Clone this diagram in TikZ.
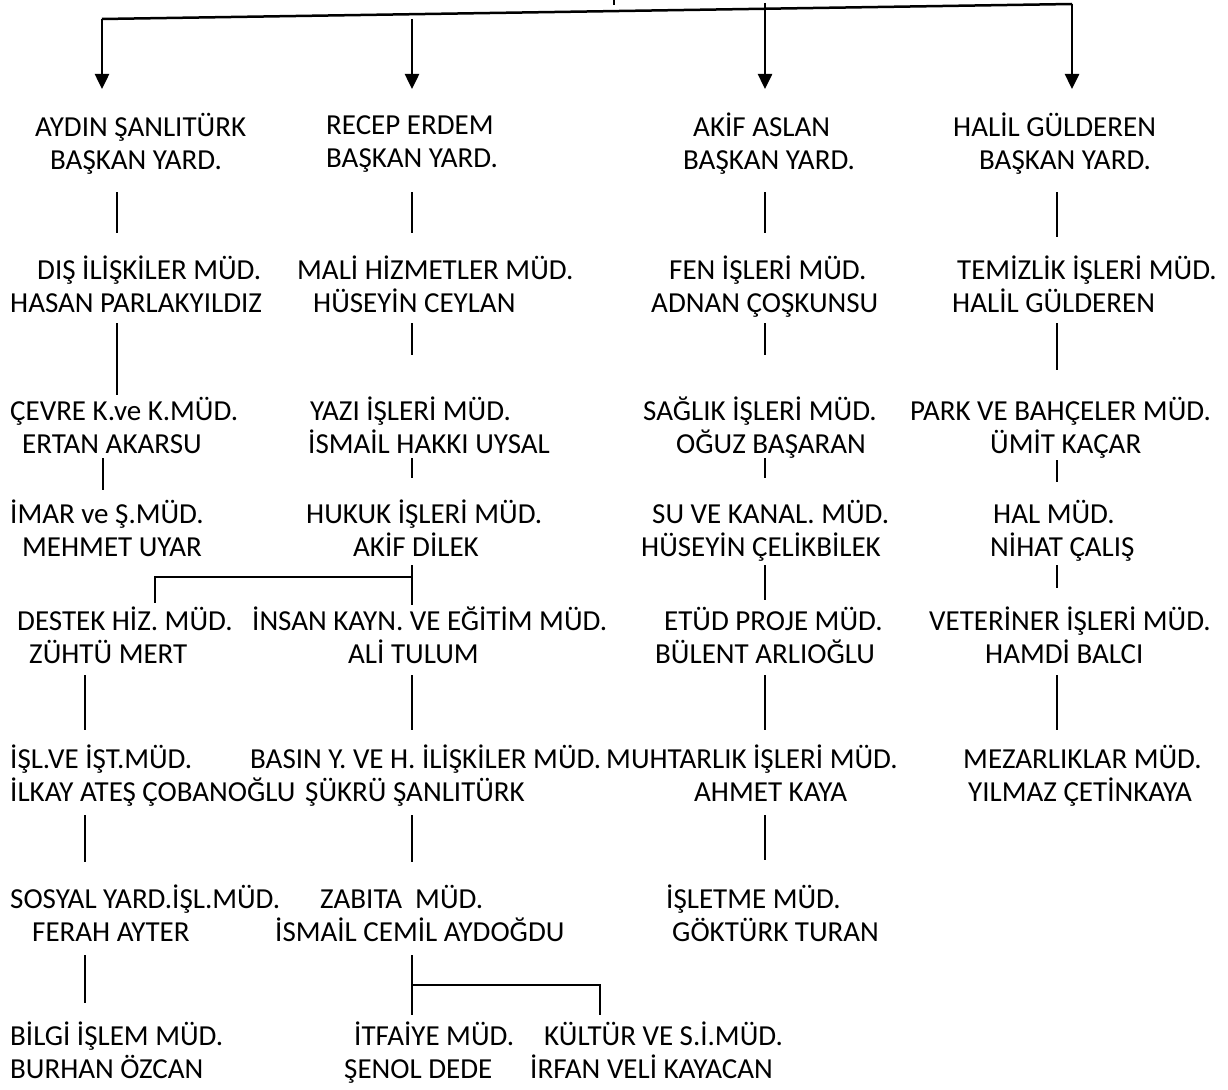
\documentclass[tikz,border=0pt]{standalone}
\usepackage{fontspec}
\setmainfont{Carlito}
\usepackage{tikz}
\usetikzlibrary{arrows.meta}

\begin{document}
\begin{tikzpicture}[x=1pt,y=-1pt,
	unit/.style={anchor=west,align=left,inner sep=0pt,font=\fontsize{29pt}{33pt}\selectfont,
		execute at begin node={\rule{0pt}{33pt}},
		execute at end node={\rule[-6pt]{0pt}{6pt}}},
	link/.style={line width=1.5pt},
	bar/.style={line width=2.5pt},
	down/.style={bar,-{Triangle[length=15pt,width=14pt]}}]
	
	\useasboundingbox (0,0) rectangle (1228,1089);
	
	%sutunlar
	\coordinate (colA) at (117,0);
	\coordinate (colAi) at (103,0);
	\coordinate (colAii) at (85,0);
	\coordinate (colB) at (412,0);
	\coordinate (colC) at (765,0);
	\coordinate (colD) at (1057,0);
	\coordinate (colE) at (155,0);
	\coordinate (colF) at (600,0);
	
	%baskan yardimcilari
	\node (aydin) at (35,144.5) [unit]{AYDIN ŞANLITÜRK\\\hspace*{15pt}BAŞKAN YARD.};
	\node (recep) at (326,144.5) [unit]{RECEP ERDEM\\BAŞKAN YARD.};
	\node (akif) at (683,144.5) [unit]{\hspace*{10pt}AKİF ASLAN\\BAŞKAN YARD.};
	\node (halil) at (953,144.5) [unit]{HALİL GÜLDEREN\\\hspace*{26pt}BAŞKAN YARD.};
	
	\node (dis) at (10,287.5) [unit]{\hspace*{27pt}DIŞ İLİŞKİLER MÜD.\\HASAN PARLAKYILDIZ};
	\node (mali) at (297,287.5) [unit]{MALİ HİZMETLER MÜD.\\\hspace*{16pt}HÜSEYİN CEYLAN};
	\node (fen) at (651,287.5) [unit]{\hspace*{18pt}FEN İŞLERİ MÜD.\\ADNAN ÇOŞKUNSU};
	\node (temizlik) at (952,287.5) [unit]{\hspace*{5pt}TEMİZLİK İŞLERİ MÜD.\\HALİL GÜLDEREN};
	
	\node (cevre) at (10,428) [unit]{ÇEVRE K.ve K.MÜD.\\\hspace*{12pt}ERTAN AKARSU};
	\node (yazi) at (308,428) [unit]{\hspace*{2pt}YAZI İŞLERİ MÜD.\\İSMAİL HAKKI UYSAL};
	\node (saglik) at (643,428) [unit]{SAĞLIK İŞLERİ MÜD.\\\hspace*{33pt}OĞUZ BAŞARAN};
	\node (park) at (910,428) [unit]{PARK VE BAHÇELER MÜD.\\\hspace*{80pt}ÜMİT KAÇAR};
	
	\node (imar) at (10,531) [unit]{İMAR ve Ş.MÜD.\\\hspace*{12pt}MEHMET UYAR};
	\node (hukuk) at (306,531) [unit]{HUKUK İŞLERİ MÜD.\\\hspace*{47pt}AKİF DİLEK};
	\node (su) at (641,531) [unit]{\hspace*{11pt}SU VE KANAL. MÜD.\\HÜSEYİN ÇELİKBİLEK};
	\node (hal) at (990,531) [unit]{\hspace*{3pt}HAL MÜD.\\NİHAT ÇALIŞ};
	
	\node (destek) at (17,638.5) [unit]{DESTEK HİZ. MÜD.\\\hspace*{12pt}ZÜHTÜ MERT};
	\node (insan) at (252,638.5) [unit]{İNSAN KAYN. VE EĞİTİM MÜD.\\\hspace*{96pt}ALİ TULUM};
	\node (etud) at (655,638.5) [unit]{\hspace*{9pt}ETÜD PROJE MÜD.\\BÜLENT ARLIOĞLU};
	\node (veteriner) at (929,638.5) [unit]{VETERİNER İŞLERİ MÜD.\\\hspace*{56pt}HAMDİ BALCI};
	
	\node (isl) at (10,776.5) [unit]{İŞL.VE İŞT.MÜD.\\İLKAY ATEŞ ÇOBANOĞLU};
	\node (basin) at (250,776.5) [unit]{BASIN Y. VE H. İLİŞKİLER MÜD.\\\hspace*{55pt}ŞÜKRÜ ŞANLITÜRK};
	\node (muhtarlik) at (606,776.5) [unit]{MUHTARLIK İŞLERİ MÜD.\\\hspace*{88pt}AHMET KAYA};
	\node (mezarlik) at (963,776.5) [unit]{MEZARLIKLAR MÜD.\\\hspace*{5pt}YILMAZ ÇETİNKAYA};
	
	\node (sosyal) at (10,916.5) [unit]{SOSYAL YARD.İŞL.MÜD.\\\hspace*{22pt}FERAH AYTER};
	\node (zabita) at (275,916.5) [unit]{\hspace*{45pt}ZABITA\ \ MÜD.\\İSMAİL CEMİL AYDOĞDU};
	\node (isletme) at (666,916.5) [unit]{İŞLETME MÜD.\\\hspace*{6pt}GÖKTÜRK TURAN};
	
	\node (bilgi) at (10,1053) [unit]{BİLGİ İŞLEM MÜD.\\BURHAN ÖZCAN};
	\node (itfaiye) at (344,1053) [unit]{\hspace*{10pt}İTFAİYE MÜD.\\ŞENOL DEDE};
	\node (kultur) at (530,1053) [unit]{\hspace*{14pt}KÜLTÜR VE S.İ.MÜD.\\İRFAN VELİ KAYACAN};
	
	%ust cizgi ve oklar
	\coordinate (top) at (614,0);
	\coordinate (barL) at (102,19);
	\coordinate (barR) at (1072,4);
	\coordinate (arrB) at (412,19);
	\coordinate (arrC) at (765,3);
	\draw [link] (top) -- ++(0,5);
	\draw [bar] (barL) -- (barR);
	\draw [down,shorten >=55.5pt] (barL) -- (aydin.center -| barL);
	\draw [down,shorten >=55.5pt] (arrB) -- (recep.center -| arrB);
	\draw [down,shorten >=55.5pt] (arrC) -- (akif.center -| arrC);
	\draw [down,shorten >=55.5pt] (barR) -- (halil.center -| barR);
	
	%1. sutun
	\draw [link,shorten <=47.5pt,shorten >=54.5pt] (aydin.center -| colA) -- (dis.center -| colA);
	\draw [link,shorten <=35.5pt,shorten >=33pt] (dis.center -| colA) -- (cevre.center -| colA);
	\draw [link,shorten <=30pt,shorten >=41pt] (cevre.center -| colAi) -- (imar.center -| colAi);
	\draw [link,shorten <=36.5pt,shorten >=46.5pt] (destek.center -| colAii) -- (isl.center -| colAii);
	\draw [link,shorten <=38.5pt,shorten >=54.5pt] (isl.center -| colAii) -- (sosyal.center -| colAii);
	\draw [link,shorten <=38.5pt,shorten >=50pt] (sosyal.center -| colAii) -- (bilgi.center -| colAii);
	
	%2. sutun
	\coordinate (hk) at (412,577);
	\coordinate (zb) at (412,985);
	\draw [link,shorten <=47.5pt,shorten >=54.5pt] (recep.center -| colB) -- (mali.center -| colB);
	\draw [link,shorten <=35.5pt,shorten >=73pt] (mali.center -| colB) -- (yazi.center -| colB);
	\draw [link,shorten <=30pt,shorten >=53pt] (yazi.center -| colB) -- (hukuk.center -| colB);
	\draw [link,shorten <=34pt] (hukuk.center -| colB) -- (hk);
	\draw [link,shorten >=33.5pt] (hk) -- (insan.center -| colB);
	\draw [link,shorten >=35.5pt] (hk) -| (destek.center -| colE);
	\draw [link,shorten <=36.5pt,shorten >=46.5pt] (insan.center -| colB) -- (basin.center -| colB);
	\draw [link,shorten <=38.5pt,shorten >=54.5pt] (basin.center -| colB) -- (zabita.center -| colB);
	\draw [link,shorten <=38.5pt] (zabita.center -| colB) -- (zb);
	\draw [link,shorten >=38pt] (zb) -- (itfaiye.center -| colB);
	\draw [link,shorten >=38pt] (zb) -| (kultur.center -| colF);
	
	%3. sutun
	\draw [link,shorten <=47.5pt,shorten >=54.5pt] (akif.center -| colC) -- (fen.center -| colC);
	\draw [link,shorten <=35.5pt,shorten >=73pt] (fen.center -| colC) -- (saglik.center -| colC);
	\draw [link,shorten <=30pt,shorten >=53pt] (saglik.center -| colC) -- (su.center -| colC);
	\draw [link,shorten <=34pt,shorten >=38.5pt] (su.center -| colC) -- (etud.center -| colC);
	\draw [link,shorten <=36.5pt,shorten >=46.5pt] (etud.center -| colC) -- (muhtarlik.center -| colC);
	\draw [link,shorten <=38.5pt,shorten >=56.5pt] (muhtarlik.center -| colC) -- (isletme.center -| colC);
	
	%4. sutun
	\draw [link,shorten <=47.5pt,shorten >=50.5pt] (halil.center -| colD) -- (temizlik.center -| colD);
	\draw [link,shorten <=35.5pt,shorten >=58pt] (temizlik.center -| colD) -- (park.center -| colD);
	\draw [link,shorten <=32pt,shorten >=49pt] (park.center -| colD) -- (hal.center -| colD);
	\draw [link,shorten <=34pt,shorten >=50.5pt] (hal.center -| colD) -- (veteriner.center -| colD);
	\draw [link,shorten <=36.5pt,shorten >=46.5pt] (veteriner.center -| colD) -- (mezarlik.center -| colD);
	
\end{tikzpicture}
\end{document}
